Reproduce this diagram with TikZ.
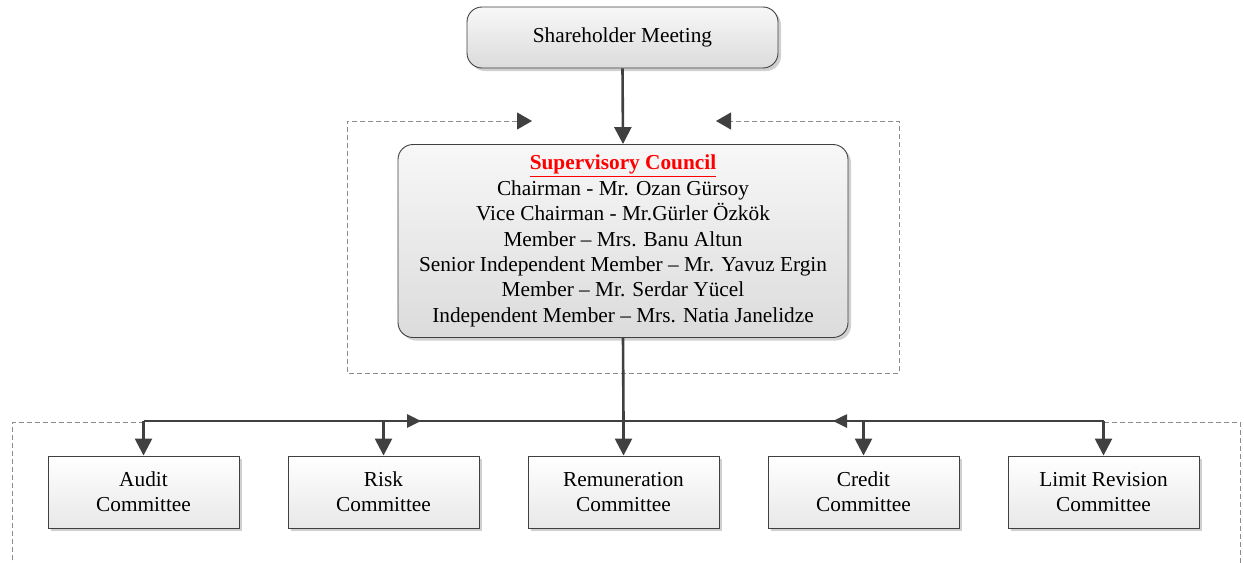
\documentclass[tikz,border=0pt]{standalone}
\usepackage{fontspec}
\setmainfont{Liberation Serif}
\usetikzlibrary{arrows.meta,shadows,calc}
\definecolor{lineC}{HTML}{404040}
\definecolor{dashC}{HTML}{8A8A8A}
\definecolor{shadC}{HTML}{D0D0D0}
\begin{document}
\begin{tikzpicture}[x=1pt,y=-1pt,
  font=\fontsize{21.3}{25.4}\selectfont,
  roundbox/.style={draw=lineC, line width=0.9pt, rounded corners=15pt, top color=gray!6, bottom color=gray!28, align=center, inner sep=0pt,
     drop shadow={shadow xshift=3pt, shadow yshift=-3pt, fill=shadC, opacity=1}},
  combox/.style={draw=lineC, line width=0.9pt, top color=white, bottom color=gray!18, align=center, inner sep=0pt,
     minimum width=191pt, minimum height=72pt,
     drop shadow={shadow xshift=3pt, shadow yshift=-3pt, fill=shadC, opacity=1}},
  conn/.style={draw=lineC, line width=2.6pt, -{Triangle[length=17pt,width=17pt]}},
  busline/.style={draw=lineC, line width=2.6pt},
  busarrow/.style={draw=lineC, line width=2.6pt, -{Triangle[length=14pt,width=13pt]}},
  frame/.style={draw=dashC, line width=1pt, dash pattern=on 5pt off 3pt,
     {Triangle[length=15pt,width=17pt,color=lineC]}-{Triangle[length=15pt,width=17pt,color=lineC]}},
  frameopen/.style={draw=dashC, line width=1pt, dash pattern=on 5pt off 3pt}
]
\useasboundingbox (0,0) rectangle (1244,562);

% upper dashed frame
\coordinate (tipL) at (532,121);
\coordinate (tipR) at (716,121);
\coordinate (fUL) at (347,121);
\coordinate (fLL) at (347,373);
\coordinate (fLR) at (899,373);
\coordinate (fUR) at (899,121);
\draw[frame] (tipL) -- (fUL) -- (fLL) -- (fLR) -- (fUR) -- (tipR);

% nodes
\node[roundbox, minimum width=311pt, minimum height=61pt] (sh) at (622.5,37.5) {Shareholder Meeting};
\node[roundbox, minimum width=450pt, minimum height=193pt] (sc) at (623,241)
 {{\color{red}\bfseries\underline{Supervisory Council}}\\
  Chairman - Mr. Ozan Gürsoy\\
  Vice Chairman - Mr.Gürler Özkök\\
  Member – Mrs. Banu Altun\\
  Senior Independent Member – Mr. Yavuz Ergin\\
  Member – Mr. Serdar Yücel\\
  Independent Member – Mrs. Natia Janelidze};

\node[combox] (c1) at (143.5,492) {Audit\\Committee};
\node[combox] (c2) at (383.5,492) {Risk\\Committee};
\node[combox] (c3) at (623.5,492) {Remuneration\\Committee};
\node[combox] (c4) at (863.5,492) {Credit\\Committee};
\node[combox] (c5) at (1103.5,492) {Limit Revision\\Committee};

% lower dashed frame
\coordinate (bus) at (623.5,421);
\coordinate (gL) at (12,422);
\coordinate (gLb) at (12,575);
\coordinate (gR) at (1240,422);
\coordinate (gRb) at (1240,575);
\draw[frameopen] (c1.north |- gL) -- (gL) -- (gLb);
\draw[frameopen] (c5.north |- gR) -- (gR) -- (gRb);

% connectors
\draw[conn] (sh.south) -- (sc.north);
\draw[busline] (sc.south) -- (bus);
\draw[busline] (c1.north |- bus) -- (c5.north |- bus);
\coordinate (bAr) at (421,421);
\coordinate (bAl) at (833,421);
\draw[busarrow] (c2.north |- bus) -- (bAr);
\draw[busarrow] (c4.north |- bus) -- (bAl);
\foreach \c in {c1,c2,c3,c4,c5}{
  \draw[conn] (\c.north |- bus) -- (\c.north);
}
\end{tikzpicture}
\end{document}
